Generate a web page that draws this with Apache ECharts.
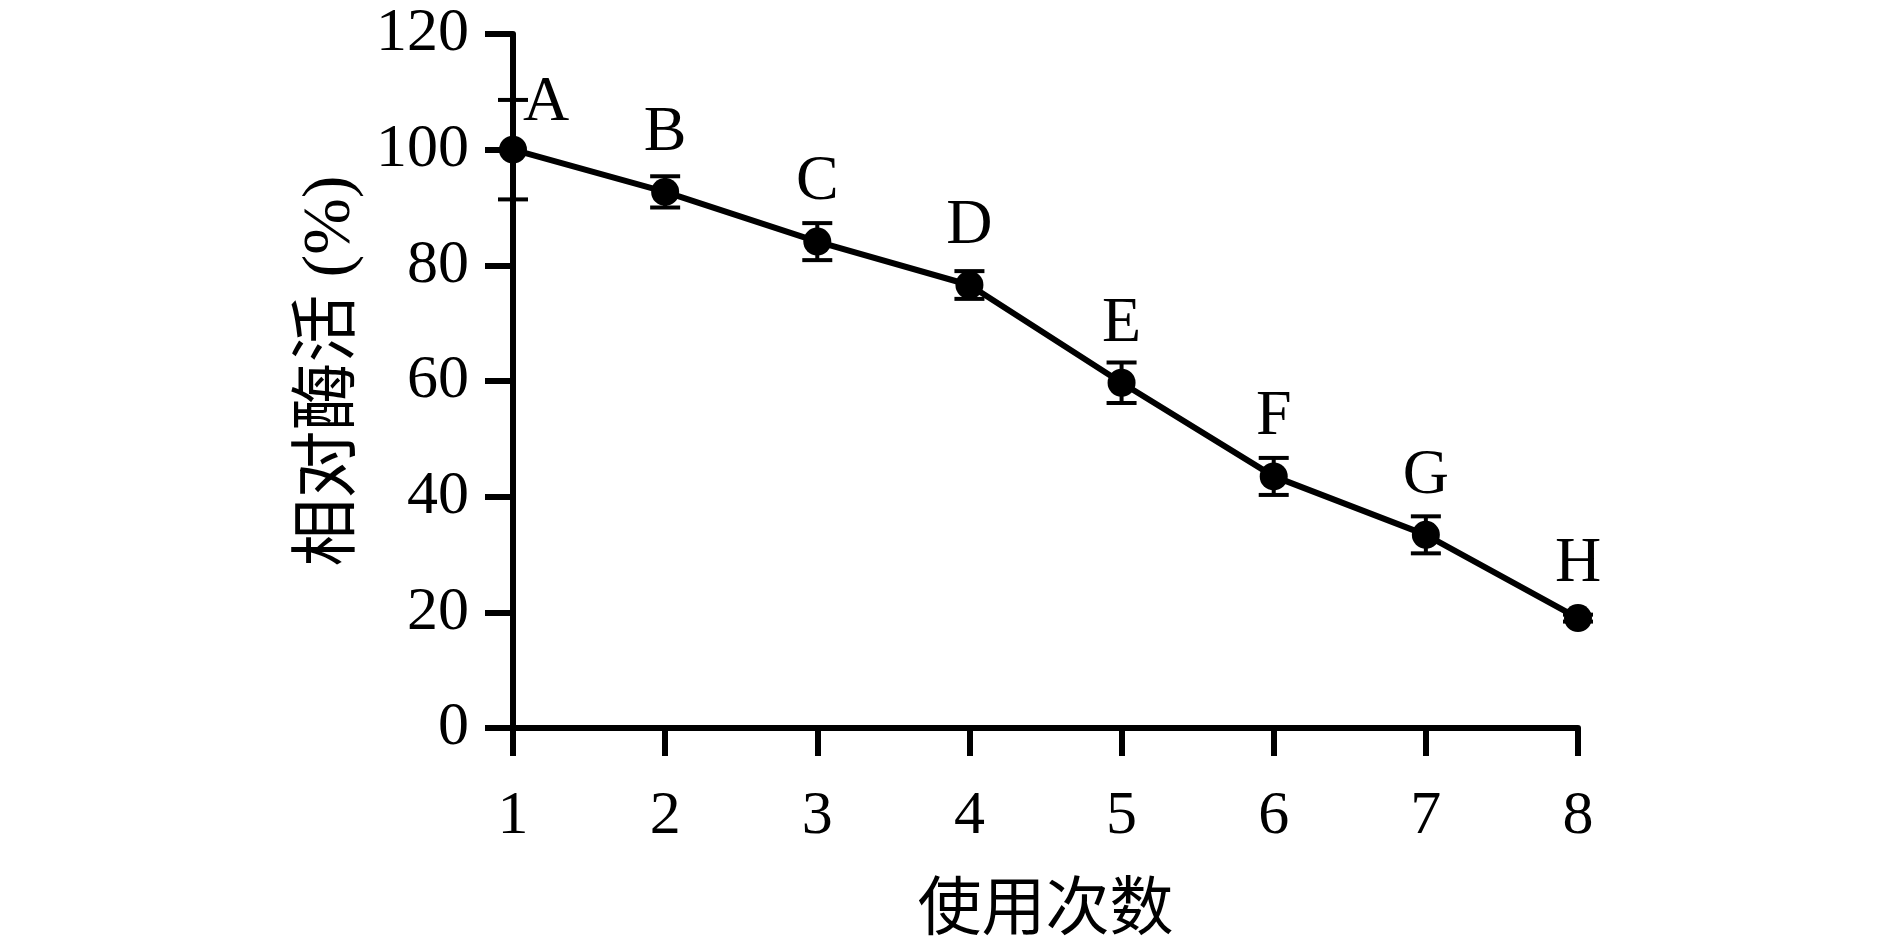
<!DOCTYPE html>
<html>
<head>
<meta charset="utf-8">
<script src="https://cdn.jsdelivr.net/npm/echarts@6/dist/echarts.min.js"></script>
<style>
  html, body { margin: 0; padding: 0; background: #ffffff; }
  #chart { width: 1890px; height: 949px; }
</style>
</head>
<body>
<div id="chart"></div>
<script>
// ---- data ----
const uses = [1, 2, 3, 4, 5, 6, 7, 8];
const activity = [100, 92.7, 84.1, 76.6, 59.7, 43.5, 33.4, 19.0];
const errors = [8.6, 2.7, 3.2, 2.4, 3.5, 3.2, 3.2, 0.6];
const pointLabels = ['A', 'B', 'C', 'D', 'E', 'F', 'G', 'H'];
const yTicks = [0, 20, 40, 60, 80, 100, 120];
const xTitle = '使用次数';
const yTitle = '相对酶活 (%)';

// ---- styling ----
const FONT = "'Liberation Serif', 'Noto Sans CJK SC', serif";
const labelOffsets = { 0: [33, 13], 7: [0, 5] };

const lineData = uses.map((u, i) => {
  const item = { value: [u, activity[i]] };
  item.label = { formatter: pointLabels[i] };
  if (labelOffsets[i]) item.label.offset = labelOffsets[i];
  return item;
});
const errData = uses.map((u, i) => [u, activity[i], errors[i]]);

const chart = echarts.init(document.getElementById('chart'), null, { renderer: 'canvas' });
chart.setOption({
  backgroundColor: '#ffffff',
  animation: false,
  grid: { left: 513, right: 312, top: 34, bottom: 221, containLabel: false },
  xAxis: {
    type: 'value', min: 1, max: 8, interval: 1,
    name: xTitle, nameLocation: 'middle', nameGap: 152,
    nameTextStyle: { fontFamily: FONT, fontSize: 64, color: '#000' },
    axisLine: { show: true, onZero: false, lineStyle: { color: '#000', width: 6 } },
    axisTick: { show: true, length: 28, lineStyle: { color: '#000', width: 6 } },
    axisLabel: { fontFamily: FONT, fontSize: 62, color: '#000', margin: 58 },
    splitLine: { show: false }
  },
  yAxis: {
    type: 'value', min: yTicks[0], max: yTicks[yTicks.length - 1], interval: 20,
    name: yTitle, nameLocation: 'middle', nameGap: 142, nameRotate: 90,
    nameTextStyle: { fontFamily: FONT, fontSize: 68, color: '#000', padding: [0, 0, 0, 20] },
    axisLine: { show: true, onZero: false, lineStyle: { color: '#000', width: 6 } },
    axisTick: { show: true, length: 28, lineStyle: { color: '#000', width: 6 } },
    axisLabel: { fontFamily: FONT, fontSize: 62, color: '#000', margin: 44 },
    splitLine: { show: false }
  },
  series: [
    {
      type: 'line',
      data: lineData,
      symbol: 'circle', symbolSize: 28,
      itemStyle: { color: '#000' },
      lineStyle: { color: '#000', width: 6 },
      label: {
        show: true, position: 'top', distance: 13,
        fontFamily: FONT, fontSize: 64, color: '#000'
      },
      z: 3
    },
    {
      type: 'custom',
      data: errData,
      z: 4,
      renderItem: function (params, api) {
        const x = api.value(0), y = api.value(1), e = api.value(2);
        const top = api.coord([x, y + e]);
        const bot = api.coord([x, y - e]);
        const hw = 15;
        const style = { stroke: '#000', lineWidth: 4 };
        return {
          type: 'group',
          children: [
            { type: 'line', shape: { x1: top[0], y1: top[1], x2: bot[0], y2: bot[1] }, style: style },
            { type: 'line', shape: { x1: top[0] - hw, y1: top[1], x2: top[0] + hw, y2: top[1] }, style: style },
            { type: 'line', shape: { x1: bot[0] - hw, y1: bot[1], x2: bot[0] + hw, y2: bot[1] }, style: style }
          ]
        };
      }
    }
  ]
});
</script>
</body>
</html>
